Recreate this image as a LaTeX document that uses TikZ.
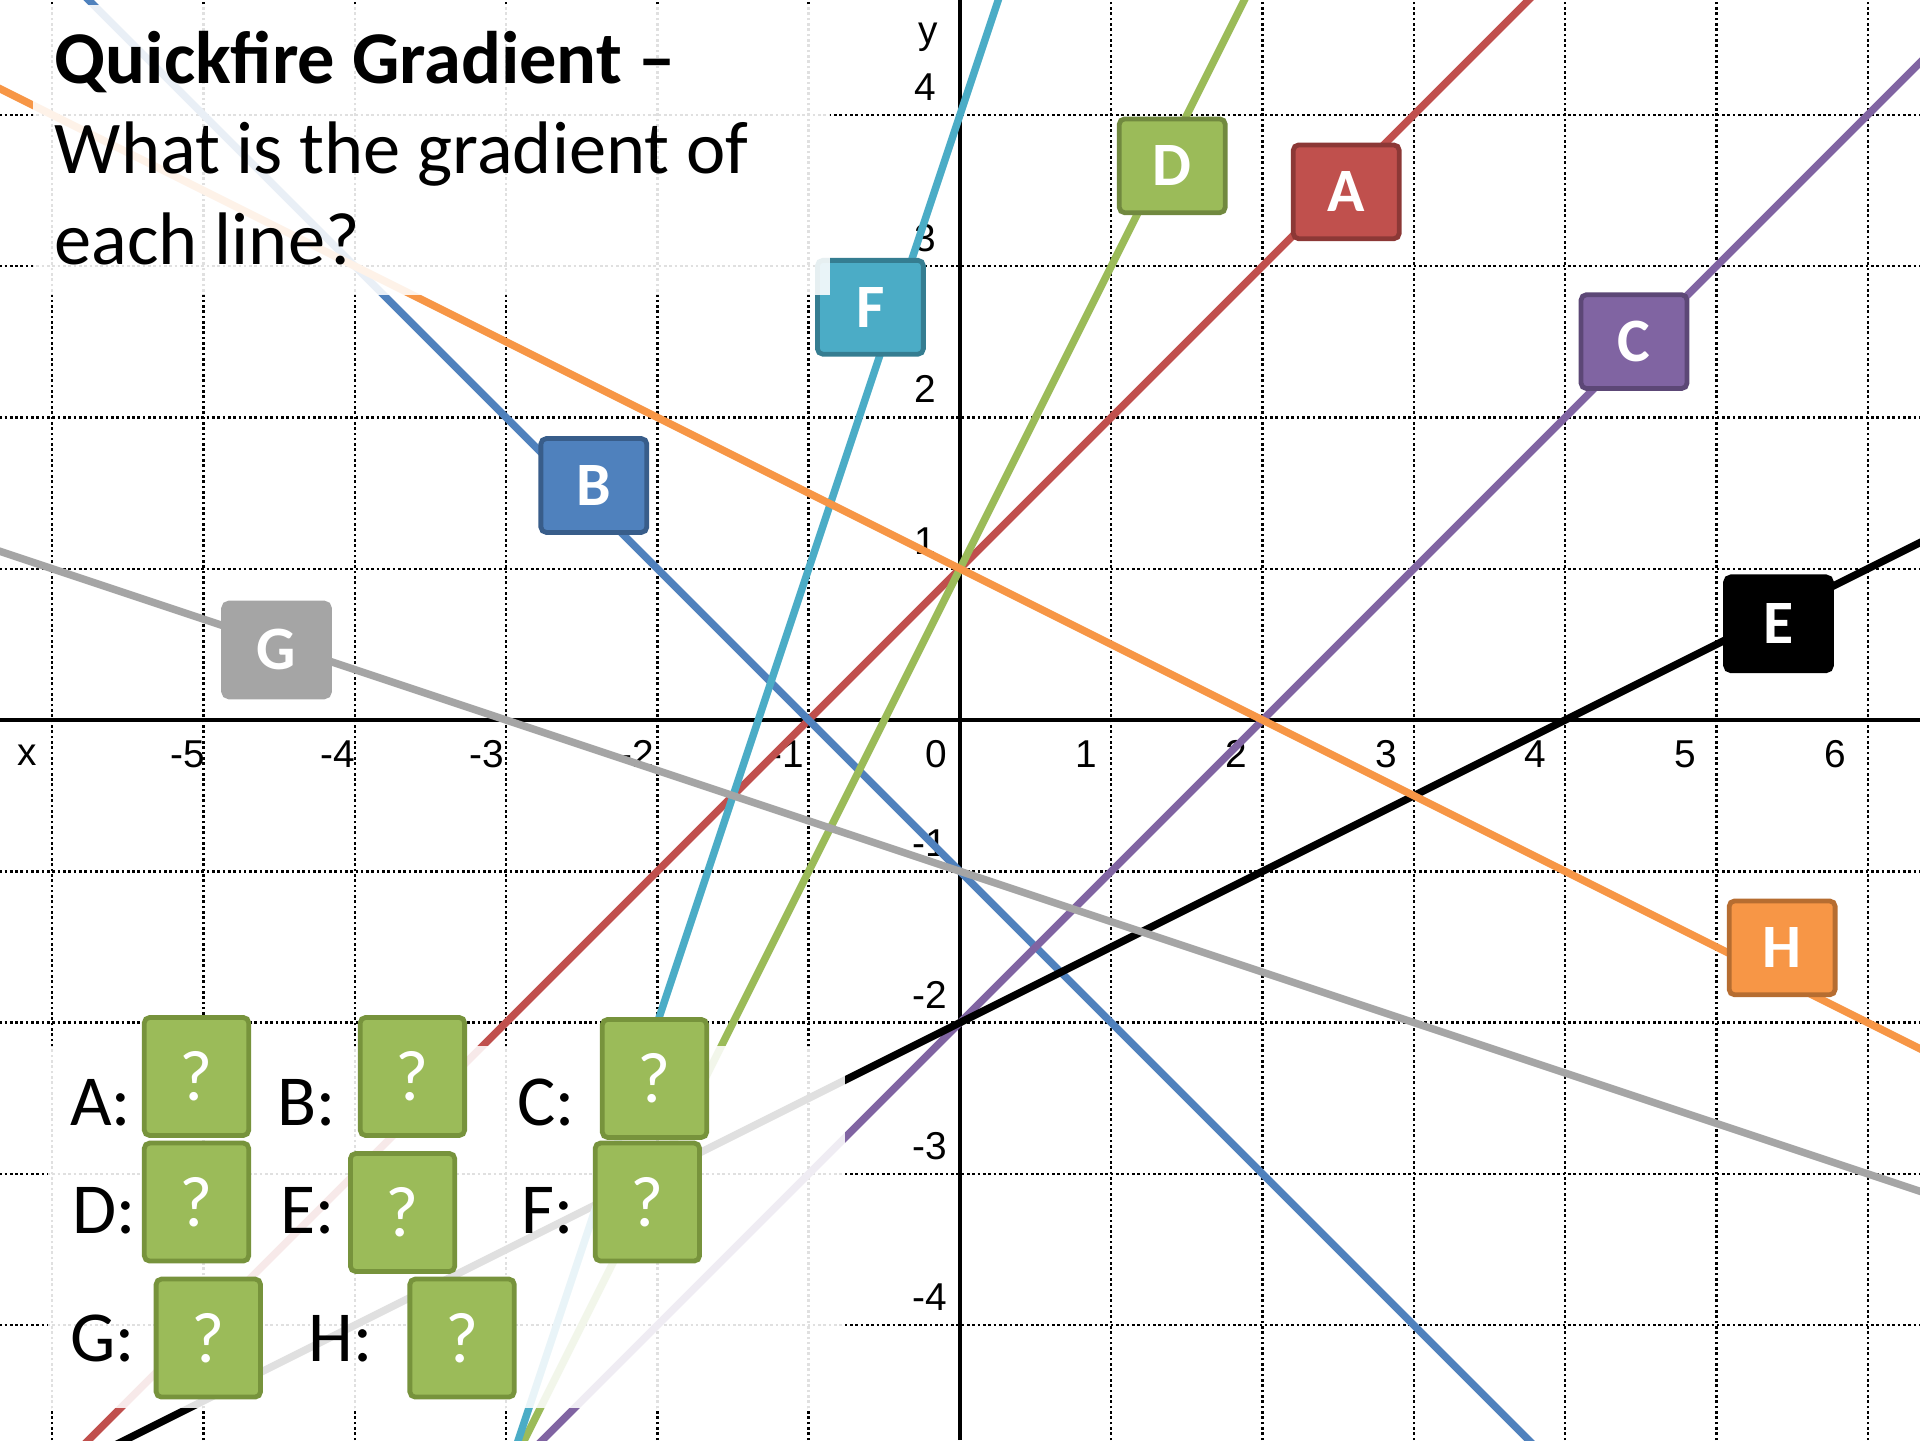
\documentclass[tikz,border=0pt]{standalone}
\usepackage{fontspec}
\setmainfont{Carlito}
\newfontfamily\axisfont{Liberation Sans}
\usetikzlibrary{positioning}
\definecolor{lred}{HTML}{C0504D}
\definecolor{dred}{HTML}{8C3836}
\definecolor{lblue}{HTML}{4F81BD}
\definecolor{dblue}{HTML}{385D8A}
\definecolor{lpurple}{HTML}{8064A2}
\definecolor{dpurple}{HTML}{5C4776}
\definecolor{lgreen}{HTML}{9BBB59}
\definecolor{dgreen}{HTML}{71893F}
\definecolor{laqua}{HTML}{4BACC6}
\definecolor{daqua}{HTML}{357D91}
\definecolor{lgray}{HTML}{A5A5A5}
\definecolor{lorange}{HTML}{F79646}
\definecolor{dorange}{HTML}{B66D31}
\definecolor{ansgreen}{HTML}{9BBB59}
\definecolor{ansedge}{HTML}{77933C}
\tikzset{
  gridline/.style={draw=black,line width=0.45pt,dash pattern=on 0.5pt off 0.5pt},
  axisline/.style={draw=black,line width=0.8pt},
  gradline/.style={line width=1.4pt},
  ticklabel/.style={font=\axisfont\fontsize{7.3}{8.5}\selectfont,text=black,inner sep=0pt},
  heading/.style={font=\bfseries\fontsize{14}{17}\selectfont,anchor=base west,inner sep=0pt},
  question/.style={font=\fontsize{14}{17}\selectfont,anchor=base west,inner sep=0pt},
  tag/.style={rounded corners=1pt,line width=0.9pt,minimum width=0.70cm,minimum height=0.62cm,inner sep=0pt,font=\bfseries\fontsize{11.6}{13}\selectfont,text=white},
  veil/.style={fill=white,fill opacity=0.88},
  anslabel/.style={font=\fontsize{13.5}{16}\selectfont,anchor=base west,inner sep=0pt},
  ansbox/.style={draw=ansedge,fill=ansgreen,line width=0.9pt,rounded corners=1pt,minimum width=0.69cm,minimum height=0.78cm,inner sep=0pt,font=\fontsize{13.5}{16}\selectfont,text=white}
}
\begin{document}
\begin{tikzpicture}[x=1cm,y=1cm]
\path[use as bounding box,fill=white] (-6.345,-4.759) rectangle (6.345,4.759);
\foreach \k in {-6,...,6}{\draw[gridline] (\k,-4.76)--(\k,4.76);}
\foreach \k in {-4,...,4}{\draw[gridline] (-6.35,\k)--(6.35,\k);}
\draw[axisline] (-6.35,0)--(6.35,0);
\draw[axisline] (0,-4.76)--(0,4.76);
\foreach \k in {-5,...,6}{\node[ticklabel] (xl\k) at ({0.99*\k-0.155},-0.225) {\k};}
\foreach \k in {1,...,4}{\node[ticklabel] (yl\k) at (-0.23,\k+0.185) {\k};}
\foreach \k in {-4,...,-1}{\node[ticklabel] (yl\k) at (-0.2,\k+0.185) {\k};}
\node[ticklabel] (xname) at (-6.163,-0.235) {x};
\node[ticklabel] (yname) at (-0.211,4.514) {y};
\begin{scope}
\clip (-6.345,-4.759) rectangle (6.345,4.759);
\foreach \m/\c/\col in {1/1/lred,-1/-1/lblue,1/-2/lpurple,2/1/lgreen,0.5/-2/black,3/4/laqua,-0.333333/-1/lgray,-0.5/1/lorange}
{\draw[gradline,draw=\col] (-6.4,{(\m)*(-6.4)+(\c)})--(6.4,{(\m)*6.4+(\c)});}
\end{scope}
\foreach \nm/\x/\y/\fc/\dc in {D/1.403/3.663/lgreen/dgreen,A/2.553/3.491/lred/dred,F/-0.592/2.728/laqua/daqua,C/4.455/2.501/lpurple/dpurple,B/-2.42/1.55/lblue/dblue,G/-4.517/0.463/lgray/lgray,E/5.41/0.636/black/black,H/5.434/-1.506/lorange/dorange}
{\node[tag,fill=\fc,draw=\dc] (tag\nm) at (\x,\y) {\nm};}
\fill[veil] (-6.13,2.809) rectangle (-0.856,4.726);
\node[heading] (title) at (-5.99,4.204) {Quickfire Gradient –};
\node[question] (ask1) at (-5.99,3.611) {What is the gradient of};
\node[question] (ask2) at (-5.99,3.011) {each line?};
\fill[veil] (-6.03,-4.547) rectangle (-0.757,-2.155);
\foreach \nm/\lx/\ly/\bx/\by in {A/-5.888/-2.683/-5.046/-2.356,B/-4.517/-2.683/-3.619/-2.356,C/-2.934/-2.683/-2.019/-2.369,D/-5.872/-3.391/-5.046/-3.186,E/-4.497/-3.391/-3.684/-3.255,F/-2.905/-3.391/-2.066/-3.186,G/-5.888/-4.241/-4.968/-4.085,H/-4.313/-4.241/-3.291/-4.085}
{\node[anslabel] (lab\nm) at (\lx,\ly) {\nm:};
\node[ansbox] (ans\nm) at (\bx,\by) {?};}
\end{tikzpicture}
\end{document}
